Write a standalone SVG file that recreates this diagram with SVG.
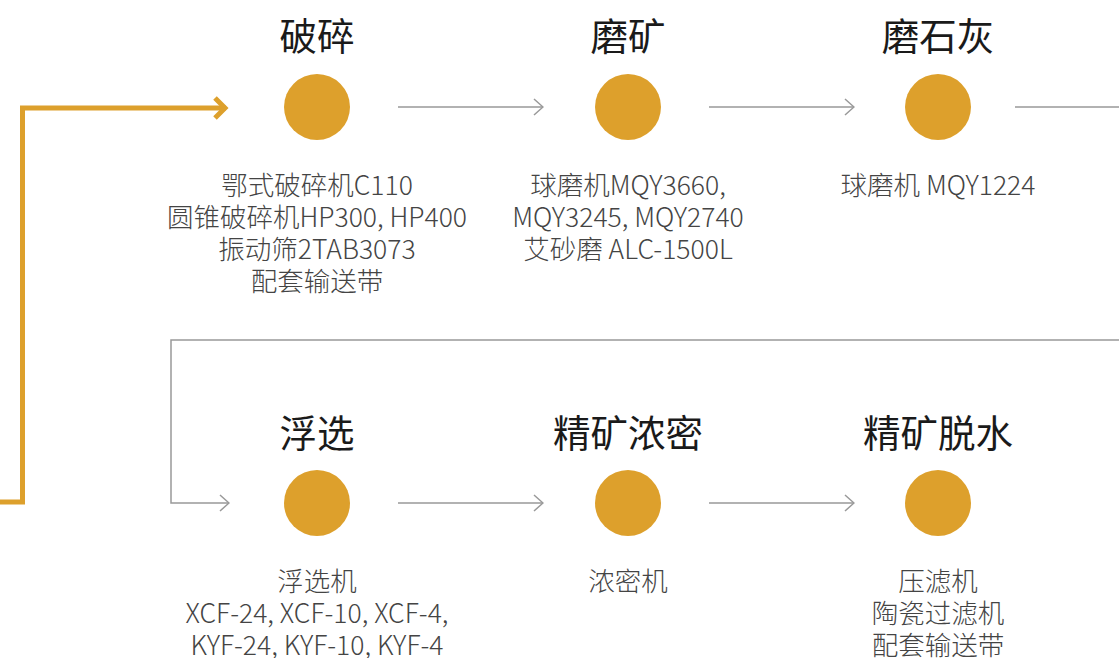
<svg xmlns="http://www.w3.org/2000/svg" width="1119" height="658" viewBox="0 0 1119 658">
<style>
.t{font-family:"Noto Sans CJK SC","Noto Sans",sans-serif;font-size:37.5px;fill:#1a1a1a;text-anchor:middle}
.d{font-family:"Noto Sans CJK SC","Noto Sans",sans-serif;font-size:26.5px;fill:#444;text-anchor:middle;font-weight:300}
.c{fill:#dda02c}
.g{fill:none;stroke:#999;stroke-width:1.5}
</style>
<defs>
<marker id="ga" markerWidth="14" markerHeight="20" refX="13" refY="10" orient="auto" markerUnits="userSpaceOnUse">
<path d="M4,2 L13,10 L4,18" fill="none" stroke="#999" stroke-width="1.5"/>
</marker>
<marker id="oa" markerWidth="20" markerHeight="30" refX="17" refY="14" orient="auto" markerUnits="userSpaceOnUse">
<path d="M6,4 L16,14 L6,24" fill="none" stroke="#dda02c" stroke-width="5"/>
</marker>
</defs>
<g id="connectors">
<path d="M0,502 H22.5 V108 H226" fill="none" stroke="#dda02c" stroke-width="5" marker-end="url(#oa)"/>
<line class="g" x1="398" y1="107" x2="543" y2="107" marker-end="url(#ga)"/>
<line class="g" x1="709" y1="107" x2="854" y2="107" marker-end="url(#ga)"/>
<line class="g" x1="1015" y1="107" x2="1119" y2="107"/>
<path class="g" d="M1119,340 H171 V503 H229" marker-end="url(#ga)"/>
<line class="g" x1="398" y1="503" x2="543" y2="503" marker-end="url(#ga)"/>
<line class="g" x1="709" y1="503" x2="854" y2="503" marker-end="url(#ga)"/>
</g>
<g id="node-crush">
<text class="t" x="317" y="50">破碎</text>
<circle class="c" cx="317" cy="107" r="33"/>
<text class="d" x="317" y="195">鄂式破碎机C110</text>
<text class="d" x="317" y="227">圆锥破碎机HP300, HP400</text>
<text class="d" x="317" y="259">振动筛2TAB3073</text>
<text class="d" x="317" y="291">配套输送带</text>
</g>
<g id="node-grind">
<text class="t" x="628" y="50">磨矿</text>
<circle class="c" cx="628" cy="107" r="33"/>
<text class="d" x="628" y="195">球磨机MQY3660,</text>
<text class="d" x="628" y="227">MQY3245, MQY2740</text>
<text class="d" x="628" y="259">艾砂磨 ALC-1500L</text>
</g>
<g id="node-lime">
<text class="t" x="938" y="50">磨石灰</text>
<circle class="c" cx="938" cy="107" r="33"/>
<text class="d" x="938" y="195">球磨机 MQY1224</text>
</g>
<g id="node-flotation">
<text class="t" x="317" y="447">浮选</text>
<circle class="c" cx="317" cy="503" r="33"/>
<text class="d" x="317" y="591">浮选机</text>
<text class="d" x="317" y="623">XCF-24, XCF-10, XCF-4,</text>
<text class="d" x="317" y="655">KYF-24, KYF-10, KYF-4</text>
</g>
<g id="node-thicken">
<text class="t" x="628" y="447">精矿浓密</text>
<circle class="c" cx="628" cy="503" r="33"/>
<text class="d" x="628" y="591">浓密机</text>
</g>
<g id="node-dewater">
<text class="t" x="938" y="447">精矿脱水</text>
<circle class="c" cx="938" cy="503" r="33"/>
<text class="d" x="938" y="591">压滤机</text>
<text class="d" x="938" y="623">陶瓷过滤机</text>
<text class="d" x="938" y="655">配套输送带</text>
</g>
</svg>
